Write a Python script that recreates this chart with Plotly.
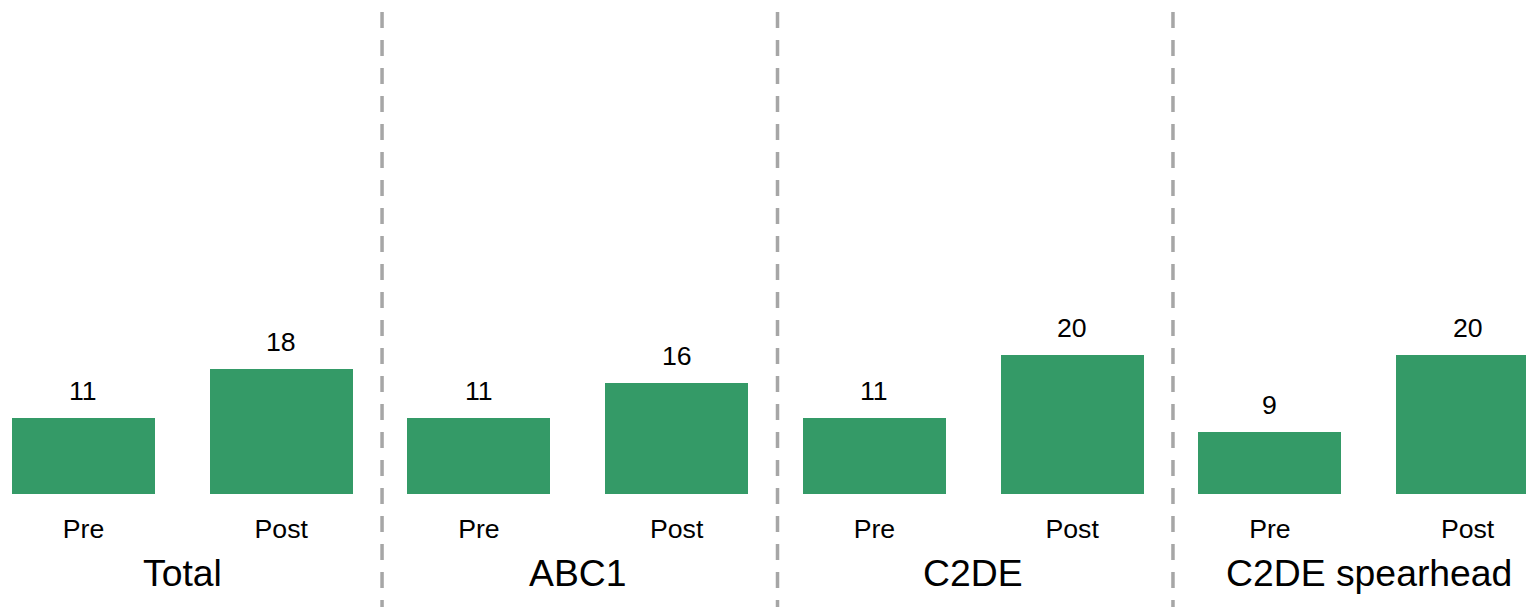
import plotly.graph_objects as go

# Segments and the two survey waves
groups = ["Total", "ABC1", "C2DE", "C2DE spearhead"]
phases = ["Pre", "Post"]
pre_values = [11, 11, 11, 9]
post_values = [18, 16, 20, 20]

BAR_COLOR = "rgb(52,154,103)"
SEP_COLOR = "#A6A6A6"
FONT = "Arial, Liberation Sans, sans-serif"

# Flatten into one bar per (group, phase) slot
xs, ys, labels = [], [], []
for i, g in enumerate(groups):
    for j, (ph, val) in enumerate(zip(phases, [pre_values[i], post_values[i]])):
        xs.append(2 * i + j)
        ys.append(val)
        labels.append(ph)

fig = go.Figure()
fig.add_trace(go.Bar(
    x=xs, y=ys, width=0.723,
    marker=dict(color=BAR_COLOR, line=dict(width=0)),
    hoverinfo="skip", showlegend=False,
))

# Value labels above each bar
for x, v in zip(xs, ys):
    fig.add_annotation(
        x=x, y=v, xref="x", yref="y", text=str(v), showarrow=False,
        yanchor="bottom", yshift=10,
        font=dict(family=FONT, size=26.67, color="#000000"),
    )

# Group names under each pair
for i, g in enumerate(groups):
    fig.add_annotation(
        x=2 * i + 0.5, y=-0.16, xref="x", yref="paper", text=g,
        showarrow=False, yanchor="middle",
        font=dict(family=FONT, size=37.33, color="#000000"),
    )

# Dashed separators between groups
for i in range(len(groups) - 1):
    xb = 2 * i + 1.51
    fig.add_shape(
        type="line", xref="x", yref="paper",
        x0=xb, x1=xb, y0=0.9757, y1=-0.23,
        line=dict(color=SEP_COLOR, width=3.5, dash="16px,12px"),
    )

fig.update_layout(
    width=1526, height=607,
    margin=dict(l=0, r=0, t=0, b=113),
    paper_bgcolor="white", plot_bgcolor="white",
    bargap=0,
    xaxis=dict(
        range=[-0.4222, 7.2954], tickvals=xs, ticktext=labels,
        showgrid=False, zeroline=False, showline=False,
        ticks="outside", ticklen=11, tickcolor="rgba(0,0,0,0)",
        tickfont=dict(family=FONT, size=26.67, color="#000000"),
        fixedrange=True,
    ),
    yaxis=dict(
        range=[0, 71.2], visible=False, showgrid=False, zeroline=False,
        fixedrange=True,
    ),
)

fig.write_html("out.html")
